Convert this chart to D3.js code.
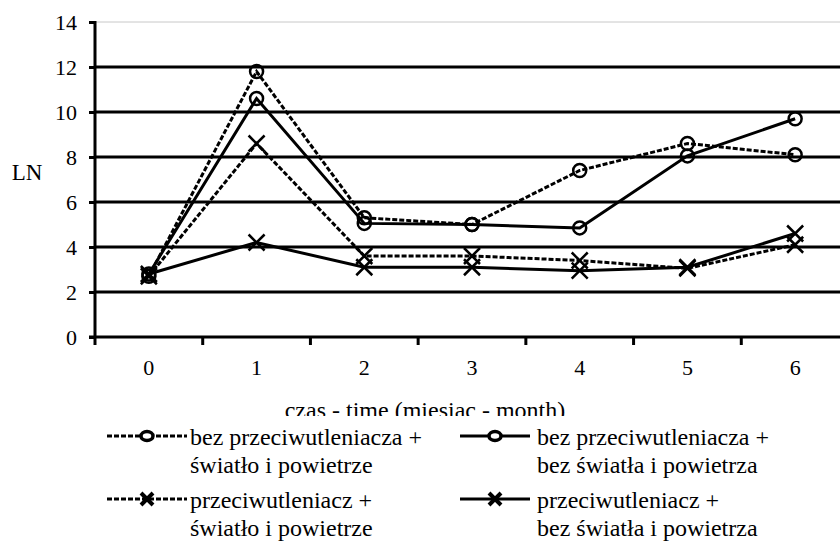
<!DOCTYPE html>
<html>
<head>
<meta charset="utf-8">
<script src="https://cdn.jsdelivr.net/npm/d3@7"></script>
</head>
<body style="margin:0;background:#fff">
<svg id="chart" width="840" height="541" style="display:block"></svg>
<script>
const categories = ["0", "1", "2", "3", "4", "5", "6"];
const yTicks = [0, 2, 4, 6, 8, 10, 12, 14];
const s1 = [2.7, 11.8, 5.3, 5.0, 7.4, 8.6, 8.1];   // bez przeciwutleniacza + światło i powietrze
const s2 = [2.8, 10.6, 5.05, 5.0, 4.85, 8.05, 9.7]; // bez przeciwutleniacza + bez światła i powietrza
const s3 = [2.7, 8.6, 3.6, 3.6, 3.4, 3.05, 4.1];   // przeciwutleniacz + światło i powietrze
const s4 = [2.8, 4.2, 3.1, 3.1, 2.95, 3.1, 4.6];   // przeciwutleniacz + bez światła i powietrza
const seriesNames = [
  ["bez przeciwutleniacza +", "światło i powietrze"],
  ["bez przeciwutleniacza +", "bez światła i powietrza"],
  ["przeciwutleniacz +", "światło i  powietrze"],
  ["przeciwutleniacz +", "bez światła i powietrza"]
];
const xTitle = "czas - time (miesiac - month)";
const yTitle = "LN";

const series = [
  { values: s1, dashed: true,  marker: "circle", name: seriesNames[0] },
  { values: s2, dashed: false, marker: "circle", name: seriesNames[1] },
  { values: s3, dashed: true,  marker: "cross",  name: seriesNames[2] },
  { values: s4, dashed: false, marker: "cross",  name: seriesNames[3] }
];

const svg = d3.select("#chart");
const L = 95, R = 849, T = 22, B = 337;
const x = d3.scaleBand().domain(categories).range([L, R]).paddingInner(0).paddingOuter(0);
const y = d3.scaleLinear().domain([0, 14]).range([B, T]);
const cx = c => x(c) + x.bandwidth() / 2;
const setFont = (sel, fs) => sel.attr("font-size", fs).style("font-size", fs + "px")
  .style("font-family", '"Liberation Serif"').attr("fill", "#000");

// gridlines
svg.append("g").selectAll("line").data(yTicks.filter(d => d > 0)).join("line")
  .attr("x1", L).attr("x2", 840)
  .attr("y1", d => y(d)).attr("y2", d => y(d))
  .attr("stroke", d => d === 14 ? "#c8c8c8" : "#000")
  .attr("stroke-width", d => d === 14 ? 1 : 3);

// y axis
const yAxis = svg.append("g").attr("transform", `translate(${L},0)`)
  .call(d3.axisLeft(y).tickValues(yTicks).tickSize(6).tickPadding(12).tickFormat(d3.format("d")));
yAxis.attr("font-size", 22);
yAxis.select(".domain").attr("stroke", "#000").attr("stroke-width", 3).attr("d", `M0,${B + 1}V${T - 1}`);
yAxis.selectAll(".tick line").attr("stroke", "#000").attr("stroke-width", 3);
setFont(yAxis.selectAll(".tick text"), 22);

// x axis
const xAxis = svg.append("g").attr("transform", `translate(0,${B})`)
  .call(d3.axisBottom(x).tickSize(0).tickPadding(22));
xAxis.attr("font-size", 22);
xAxis.select(".domain").attr("stroke", "#000").attr("stroke-width", 3).attr("d", `M${L - 6},0H840`);
setFont(xAxis.selectAll(".tick text"), 22);
svg.append("g").selectAll("line").data(categories.map(c => x(c))).join("line")
  .attr("x1", d => d).attr("x2", d => d).attr("y1", B).attr("y2", B + 8)
  .attr("stroke", "#000").attr("stroke-width", 3);

// axis titles
setFont(svg.append("text").attr("x", 27).attr("y", 180).attr("text-anchor", "middle").text(yTitle), 23);
svg.append("defs").append("clipPath").attr("id", "xclip")
  .append("rect").attr("x", 0).attr("y", 380).attr("width", 840).attr("height", 36);
setFont(svg.append("text").attr("x", 425).attr("y", 418).attr("text-anchor", "middle")
  .attr("clip-path", "url(#xclip)").text(xTitle), 24);

// series lines and markers
const line = d3.line().x((d, i) => cx(categories[i])).y(d => y(d));
series.forEach(s => {
  svg.append("path").datum(s.values).attr("d", line)
    .attr("fill", "none").attr("stroke", "#000").attr("stroke-width", 3)
    .attr("stroke-dasharray", s.dashed ? "5,2" : null);
});
series.forEach(s => {
  s.values.forEach((v, i) => {
    const g = svg.append("g").attr("transform", `translate(${cx(categories[i])},${y(v)})`);
    if (s.marker === "circle") {
      g.append("circle").attr("r", 6.5).attr("fill", "none").attr("stroke", "#000").attr("stroke-width", 2.5);
    } else {
      g.append("path").attr("d", "M-8,-8L8,8M-8,8L8,-8").attr("stroke", "#000").attr("stroke-width", 2.5);
    }
  });
});

// legend
const legPos = [
  { sx: 107, sw: 80, tx: 190, ty: 445 },
  { sx: 460, sw: 70, tx: 537, ty: 445 },
  { sx: 107, sw: 80, tx: 190, ty: 508 },
  { sx: 460, sw: 70, tx: 537, ty: 508 }
];
series.forEach((s, k) => {
  const p = legPos[k];
  const g = svg.append("g");
  const sy = p.ty - 9;
  g.append("line").attr("x1", p.sx).attr("x2", p.sx + p.sw).attr("y1", sy).attr("y2", sy)
    .attr("stroke", "#000").attr("stroke-width", 3).attr("stroke-dasharray", s.dashed ? "5,2" : null);
  const mg = g.append("g").attr("transform", `translate(${p.sx + p.sw / 2},${sy})`);
  if (s.marker === "circle") {
    mg.append("ellipse").attr("rx", 6).attr("ry", 4.5).attr("fill", "#fff").attr("stroke", "#000").attr("stroke-width", 3.5);
  } else {
    mg.append("path").attr("d", "M-6,-6L6,6M-6,6L6,-6").attr("stroke", "#000").attr("stroke-width", 4);
  }
  s.name.forEach((t, j) => {
    setFont(g.append("text").attr("x", p.tx).attr("y", p.ty + j * 28).text(t), 24);
  });
});
</script>
</body>
</html>
